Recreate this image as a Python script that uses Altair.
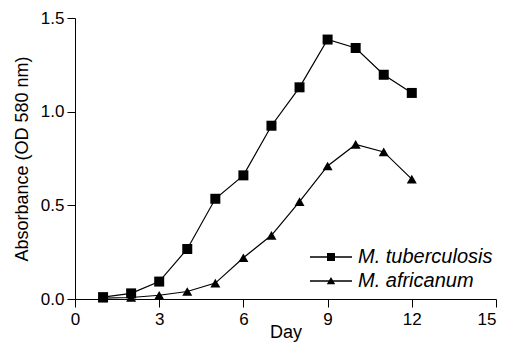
import altair as alt
import pandas as pd

days = list(range(1, 13))
tb_values = [0.01, 0.03, 0.093, 0.267, 0.535, 0.66, 0.925, 1.13, 1.385, 1.34, 1.197, 1.10]
af_values = [0.005, 0.008, 0.02, 0.04, 0.085, 0.22, 0.34, 0.52, 0.71, 0.825, 0.785, 0.64]
series_names = ["M. tuberculosis", "M. africanum"]
x_ticks = [0, 3, 6, 9, 12, 15]
y_ticks = [0.0, 0.5, 1.0, 1.5]

df = pd.DataFrame({
    "Day": days + days,
    "OD": tb_values + af_values,
    "Series": [series_names[0]] * len(days) + [series_names[1]] * len(days),
})

FONT = "Liberation Sans"

x = alt.X("Day:Q",
          scale=alt.Scale(domain=[0, 15], nice=False, zero=False),
          axis=alt.Axis(values=x_ticks, title="Day", tickSize=8, labelPadding=4,
                        labelAlign={"condition": {"test": "datum.value == 15", "value": "right"},
                                    "value": "center"},
                        titleBaseline="alphabetic", titleY=38,
                        labelFontSize=17, titleFontSize=18))
y = alt.Y("OD:Q",
          scale=alt.Scale(domain=[0, 1.5], nice=False),
          axis=alt.Axis(values=y_ticks, format=".1f", title="Absorbance (OD 580 nm)",
                        tickSize=8, labelPadding=3, titlePadding=9,
                        labelFontSize=17, titleFontSize=18))

base = alt.Chart(df)

lines = base.mark_line(color="black", strokeWidth=1.2).encode(
    x=x, y=y, detail="Series:N")

points = base.mark_point(filled=True, color="black", size=100, opacity=1).encode(
    x=x, y=y,
    shape=alt.Shape("Series:N",
                    scale=alt.Scale(domain=series_names, range=["square", "triangle-up"]),
                    legend=None))

# legend glyphs: a thin filled bar (the line) plus the marker, both filled
sq_path = "M-1,-0.03H1V0.03H-1ZM-0.19,-0.19H0.19V0.19H-0.19Z"
tri_path = "M-1,-0.03H1V0.03H-1ZM-0.2,0.16L0,-0.19L0.2,0.16Z"
legend_paths = [sq_path, tri_path]
legend_y = [218, 242]


def legend_layer(i):
    name = series_names[i]
    return base.transform_filter(alt.datum.Series == name).mark_point(
        filled=True, color="black", opacity=0
    ).encode(
        x=x, y=y,
        shape=alt.Shape("Series:N",
                        scale=alt.Scale(domain=[name], range=[legend_paths[i]]),
                        legend=alt.Legend(title=None, orient="none", legendX=235,
                                          legendY=legend_y[i],
                                          symbolSize=1764, symbolOpacity=1,
                                          symbolFillColor="black", symbolStrokeWidth=0,
                                          labelFont=FONT, labelFontStyle="italic",
                                          labelFontSize=20, labelColor="black",
                                          labelOffset=6, padding=0)))


chart = alt.layer(lines, points, legend_layer(0), legend_layer(1)).resolve_scale(
    shape="independent"
).properties(
    width=421, height=281,
    autosize=alt.AutoSizeParams(type="none"),
    padding={"left": 67, "top": 10, "right": 2, "bottom": 43},
).configure_view(stroke=None).configure_axis(
    grid=False, domainColor="black", tickColor="black", labelColor="black",
    titleColor="black", labelFont=FONT, titleFont=FONT, titleFontWeight="normal",
    domainWidth=1, tickWidth=1,
)

chart.save("out.html", embed_options={"renderer": "svg", "actions": False})
